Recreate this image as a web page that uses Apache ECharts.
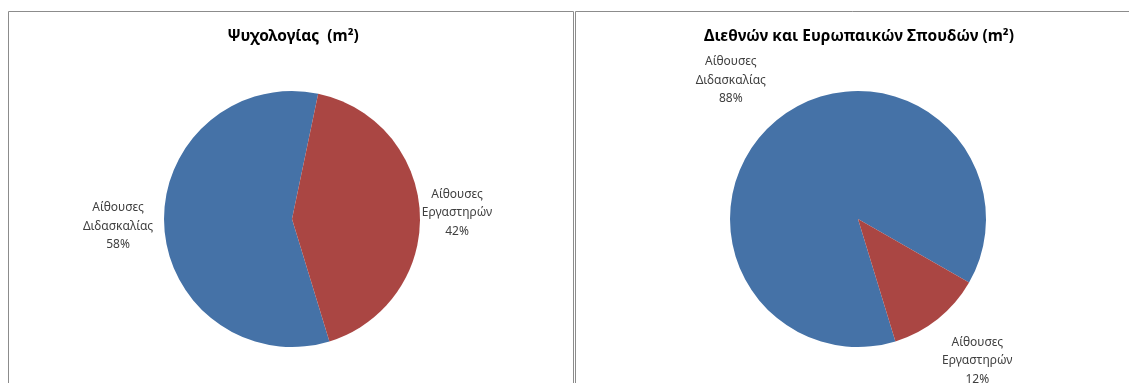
<!DOCTYPE html>
<html>
<head>
<meta charset="utf-8">
<script src="https://cdn.jsdelivr.net/npm/echarts@6/dist/echarts.min.js"></script>
<style>
html,body{margin:0;padding:0;background:#fff;}
#chart{width:1129px;height:383px;}
</style>
</head>
<body>
<div id="chart"></div>
<script>
const categories = ['Αίθουσες Διδασκαλίας', 'Αίθουσες Εργαστηρών'];
const psychologyValues = [58, 42];
const internationalValues = [88, 12];
const titles = ['Ψυχολογίας  (m²)', 'Διεθνών και Ευρωπαικών Σπουδών (m²)'];

const colors = ['#4572A7', '#AA4643'];
const FONT = '"Noto Sans", "DejaVu Sans", sans-serif';

// label nudges (layout only): [series][dataIndex] = [dx, dy]
const labelNudge = [
  [[4, 1], [-13, 0]],
  [[-1, -31], [-7, 34]]
];

function makeData(vals) {
  return categories.map((c, i) => ({ name: c, value: vals[i] }));
}

function labelFmt(p) {
  const parts = p.name.split(' ');
  return parts[0] + '\n' + parts[1] + '\n' + Math.round(p.percent) + '%';
}

const chart = echarts.init(document.getElementById('chart'), null, { renderer: 'canvas' });

function pieSeries(vals, center, sIdx) {
  return {
    type: 'pie',
    center: center,
    radius: 128,
    startAngle: 287,
    clockwise: true,
    avoidLabelOverlap: false,
    silent: true,
    animation: false,
    data: makeData(vals),
    itemStyle: { borderColor: '#ffffff', borderWidth: 0 },
    label: {
      show: true,
      position: 'outside',
      formatter: labelFmt,
      color: '#404040',
      fontFamily: FONT,
      fontSize: 12,
      lineHeight: 18.5
    },
    labelLine: { show: false, length: 10, length2: 0 },
    labelLayout: function (p) {
      const r = p.labelRect;
      const n = labelNudge[sIdx][p.dataIndex];
      return {
        x: r.x + r.width / 2 + n[0],
        y: r.y + r.height / 2 + n[1],
        align: 'center',
        verticalAlign: 'middle'
      };
    }
  };
}

chart.setOption({
  animation: false,
  color: colors,
  graphic: [
    { type: 'rect', shape: { x: 8.5, y: 11.5, width: 565, height: 400 }, style: { fill: 'none', stroke: '#8c8c8c', lineWidth: 1 } },
    { type: 'rect', shape: { x: 575.5, y: 11.5, width: 600, height: 400 }, style: { fill: 'none', stroke: '#8c8c8c', lineWidth: 1 } }
  ],
  title: [
    { text: titles[0], left: 288, top: 24, textAlign: 'center',
      textStyle: { fontFamily: FONT, fontSize: 15.5, fontWeight: 'bold', color: '#000' } },
    { text: titles[1], left: 854, top: 24, textAlign: 'center',
      textStyle: { fontFamily: FONT, fontSize: 15.5, fontWeight: 'bold', color: '#000' } }
  ],
  series: [
    pieSeries(psychologyValues, [292, 219], 0),
    pieSeries(internationalValues, [858, 219], 1)
  ]
});
</script>
</body>
</html>
